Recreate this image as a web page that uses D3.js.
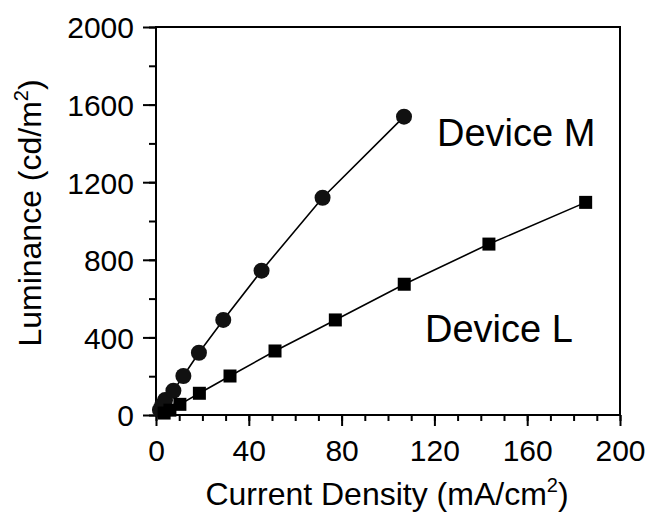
<!DOCTYPE html>
<html>
<head>
<meta charset="utf-8">
<script src="https://d3js.org/d3.v7.min.js"></script>
<style>
  body { margin: 0; background: #fff; }
  text { font-family: "Liberation Sans", Arial, sans-serif; fill: #000; }
</style>
</head>
<body>
<svg width="649" height="514"></svg>
<script>
// Device M (circles)
var mX = [1.7, 2.6, 3.9, 7.5, 11.8, 18.5, 29, 45.5, 71.8, 106.9];
var mY = [26, 50, 77, 125, 201, 321, 490, 744, 1120, 1538];
// Device L (squares)
var lX = [3.5, 6, 10.3, 18.7, 31.9, 51.3, 77.3, 107, 143.5, 185.2];
var lY = [10, 25, 55, 112, 201, 330, 490, 674, 881, 1096];

var xTicks = [0, 40, 80, 120, 160, 200];
var yTicks = [0, 400, 800, 1200, 1600, 2000];

var svg = d3.select("svg"),
  margin = { top: 27, right: 29, bottom: 99, left: 156 },
  width = 649 - margin.left - margin.right,
  height = 514 - margin.top - margin.bottom;

var g = svg.append("g")
  .attr("transform", "translate(" + margin.left + "," + margin.top + ")");

var x = d3.scaleLinear().domain([0, 200]).range([0, width]);
var y = d3.scaleLinear().domain([0, 2000]).range([height, 0]);

// minor ticks
g.append("g")
  .attr("transform", "translate(0," + height + ")")
  .call(d3.axisBottom(x).tickValues(d3.range(0, 201, 10)).tickSize(6).tickFormat(""))
  .call(function (a) { a.select(".domain").remove(); a.selectAll("line").attr("stroke-width", 2); });
g.append("g")
  .call(d3.axisLeft(y).tickValues(d3.range(0, 2001, 200)).tickSize(7).tickFormat(""))
  .call(function (a) { a.select(".domain").remove(); a.selectAll("line").attr("stroke-width", 2); });

// major ticks
var xAxis = g.append("g")
  .attr("transform", "translate(0," + height + ")")
  .call(d3.axisBottom(x).tickValues(xTicks).tickFormat(d3.format("d")).tickSize(11).tickPadding(14));
var yAxis = g.append("g")
  .call(d3.axisLeft(y).tickValues(yTicks).tickFormat(d3.format("d")).tickSize(13).tickPadding(9));

[xAxis, yAxis].forEach(function (a) {
  a.select(".domain").remove();
  a.selectAll("line").attr("stroke-width", 2);
  a.selectAll("text").style("font-size", "30px");
});
yAxis.selectAll("text").attr("dy", "0.36em");

// frame
g.append("rect")
  .attr("width", width)
  .attr("height", height)
  .attr("fill", "none")
  .attr("stroke", "#000")
  .attr("stroke-width", 2);

var line = d3.line()
  .x(function (d) { return x(d[0]); })
  .y(function (d) { return y(d[1]); });

var mData = d3.zip(mX, mY);
var lData = d3.zip(lX, lY);

[mData, lData].forEach(function (data) {
  g.append("path")
    .datum(data)
    .attr("fill", "none")
    .attr("stroke", "#000")
    .attr("stroke-width", 1.6)
    .attr("d", line);
});

g.selectAll(".m")
  .data(mData)
  .enter()
  .append("circle")
  .attr("cx", function (d) { return x(d[0]); })
  .attr("cy", function (d) { return y(d[1]); })
  .attr("r", 8)
  .attr("fill", "#111");

var s = 13;
g.selectAll(".l")
  .data(lData)
  .enter()
  .append("rect")
  .attr("x", function (d) { return x(d[0]) - s / 2; })
  .attr("y", function (d) { return y(d[1]) - s / 2; })
  .attr("width", s)
  .attr("height", s)
  .attr("fill", "#000");

// labels
svg.append("text")
  .attr("x", 437)
  .attr("y", 146)
  .style("font-size", "38px")
  .text("Device M");
svg.append("text")
  .attr("x", 425)
  .attr("y", 342)
  .style("font-size", "38px")
  .text("Device L");

// axis titles
var xt = svg.append("text")
  .attr("x", 387)
  .attr("y", 505)
  .attr("text-anchor", "middle")
  .style("font-size", "32px");
xt.append("tspan").text("Current Density (mA/cm");
xt.append("tspan").attr("dy", -13).style("font-size", "20px").text("2");
xt.append("tspan").attr("dy", 13).text(")");

var yt = svg.append("text")
  .attr("transform", "translate(41,213) rotate(-90)")
  .attr("text-anchor", "middle")
  .style("font-size", "32px");
yt.append("tspan").text("Luminance (cd/m");
yt.append("tspan").attr("dy", -13).style("font-size", "20px").text("2");
yt.append("tspan").attr("dy", 13).text(")");
</script>
</body>
</html>
